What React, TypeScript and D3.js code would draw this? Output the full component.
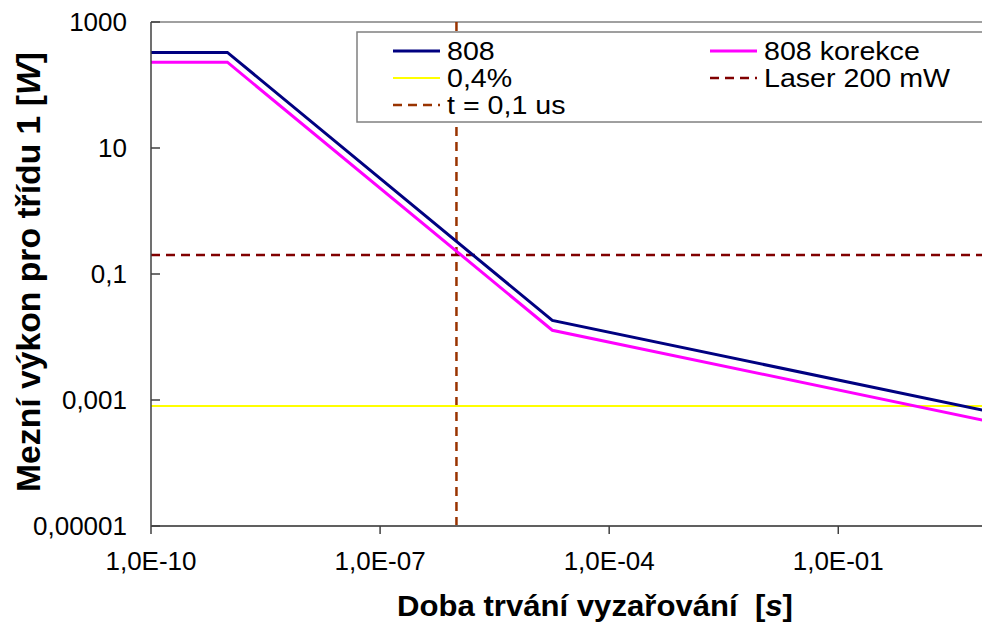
import React from "react";
import * as d3 from "d3";

const times = [1e-10, 1e-9, 1.8e-5, 10];
const p808 = [329, 329, 0.0183, 6.5e-4];
const p808kor = [230, 230, 0.0128, 4.5e-4];
const limit04 = 8e-4;
const laser200 = 0.2;
const tMark = 1e-6;

const yTicks = [1000, 10, 0.1, 0.001, 0.00001];
const yTickLabels = ["1000", "10", "0,1", "0,001", "0,00001"];
const xTicks = [1e-10, 1e-7, 1e-4, 1e-1];
const xTickLabels = ["1,0E-10", "1,0E-07", "1,0E-04", "1,0E-01"];

const legendLabels = ["808", "808 korekce", "0,4%", "Laser 200 mW", "t = 0,1 us"];
const legendColors = ["#000080", "#FF00FF", "#FFFF00", "#800000", "#993300"];

export default function App() {
  const W = 982, H = 625;
  const left = 151, right = 991, top = 22, bottom = 526;
  const x = d3.scaleLog().domain([1e-10, 10]).range([left, right]);
  const y = d3.scaleLog().domain([1e-5, 1000]).range([bottom, top]);
  const line = d3.line<[number, number]>().x(d => x(d[0])).y(d => y(d[1]));
  const s808 = times.map((t, i) => [t, p808[i]] as [number, number]);
  const sKor = times.map((t, i) => [t, p808kor[i]] as [number, number]);
  const font = "'Liberation Sans', Arial, sans-serif";
  const legX = [393, 710];
  const legRowY = [51, 78, 105];
  const legStyle = [
    { dash: undefined, w: 3, col: 0, row: 0 },
    { dash: undefined, w: 3, col: 1, row: 0 },
    { dash: undefined, w: 2, col: 0, row: 1 },
    { dash: "9,6", w: 2.5, col: 1, row: 1 },
    { dash: "9,6", w: 2.5, col: 0, row: 2 },
  ];

  return (
    <div style={{ position: "fixed", left: 0, top: 0 }}>
      <svg width={W} height={H} style={{ display: "block", background: "#fff" }} fontFamily={font}>
        <defs>
          <clipPath id="plot">
            <rect x={left} y={top} width={right - left} height={bottom - top} />
          </clipPath>
        </defs>
        <rect x={0} y={0} width={W} height={H} fill="#fff" />
        <line x1={left} x2={right} y1={top} y2={top} stroke="#808080" strokeWidth={1.5} />
        <g clipPath="url(#plot)">
          <line x1={x(tMark)} x2={x(tMark)} y1={top} y2={bottom} stroke="#993300" strokeWidth={2.5} strokeDasharray="9,6" />
          <line x1={left} x2={right} y1={y(laser200)} y2={y(laser200)} stroke="#800000" strokeWidth={2.5} strokeDasharray="9,6" />
          <line x1={left} x2={right} y1={y(limit04)} y2={y(limit04)} stroke="#FFFF00" strokeWidth={2} />
          <path d={line(sKor) || ""} fill="none" stroke="#FF00FF" strokeWidth={3} />
          <path d={line(s808) || ""} fill="none" stroke="#000080" strokeWidth={3} />
        </g>
        <line x1={left} x2={left} y1={top} y2={bottom} stroke="#404040" strokeWidth={1.5} />
        <line x1={left} x2={right} y1={bottom} y2={bottom} stroke="#606060" strokeWidth={2} />
        {yTicks.map((v, i) => (
          <g key={"yt" + i}>
            <line x1={left} x2={left + 9} y1={y(v)} y2={y(v)} stroke="#404040" strokeWidth={1.5} />
            <text x={127} y={y(v) + 9} textAnchor="end" fontSize={26} fill="#000">{yTickLabels[i]}</text>
          </g>
        ))}
        {xTicks.map((v, i) => (
          <g key={"xt" + i}>
            <line x1={x(v)} x2={x(v)} y1={bottom} y2={bottom + 8} stroke="#404040" strokeWidth={1.5} />
            <text x={x(v)} y={570} textAnchor="middle" fontSize={26} fill="#000">{xTickLabels[i]}</text>
          </g>
        ))}
        <rect x={357} y={32} width={640} height={90} fill="#fff" stroke="#808080" strokeWidth={1.5} />
        {legendLabels.map((lab, i) => {
          const st = legStyle[i];
          const lx = legX[st.col];
          const ly = legRowY[st.row];
          return (
            <g key={"lg" + i}>
              <line x1={lx} x2={lx + 47} y1={ly} y2={ly}
                stroke={legendColors[i]} strokeWidth={st.w} strokeDasharray={st.dash} />
              <text transform={`translate(${lx + 54},${ly + 9}) scale(1.1,1)`} fontSize={26} fill="#000">{lab}</text>
            </g>
          );
        })}
        <text x={397} y={616} fontSize={30} fontWeight="bold" fill="#000" textLength={396}
          lengthAdjust="spacingAndGlyphs" style={{ whiteSpace: "pre" }}>
          Doba trvání vyzařování  [<tspan fontStyle="italic">s</tspan>]
        </text>
        <text transform="translate(40,272) rotate(-90)" textAnchor="middle" fontSize={33} fontWeight="bold"
          fill="#000" textLength={440} lengthAdjust="spacingAndGlyphs">
          Mezní výkon pro třídu 1 [<tspan fontStyle="italic">W</tspan>]
        </text>
      </svg>
    </div>
  );
}
